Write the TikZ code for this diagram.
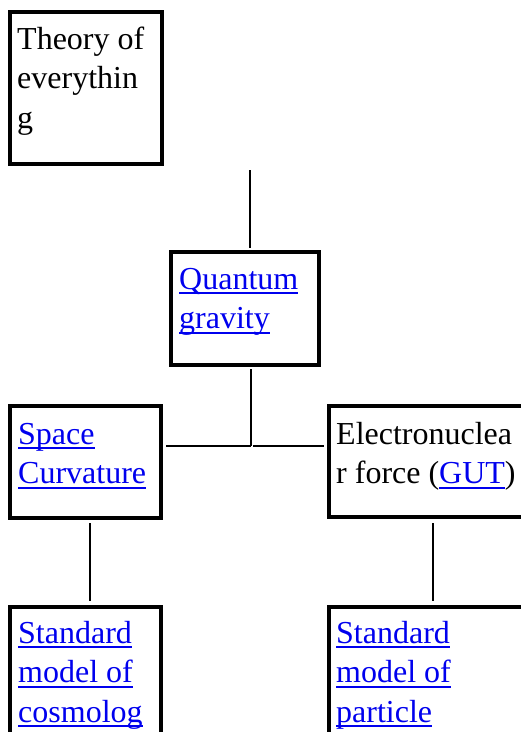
\documentclass[tikz,border=0pt]{standalone}
\usepackage{fontspec}
\setmainfont{Liberation Serif}
\definecolor{linkblue}{RGB}{0,0,238}
\newcommand{\lnk}[1]{\textcolor{linkblue}{\setbox0\hbox{#1}\rlap{\rule[-5pt]{\wd0}{2pt}}\box0}}
\begin{document}
\begin{tikzpicture}[x=1pt,y=-1pt,
    box/.style={draw,line width=4pt,inner sep=0pt,outer sep=0pt,
                anchor=north west},
    txt/.style={anchor=base west,inner sep=0pt,
                font=\fontsize{32}{39.5}\selectfont},
    conn/.style={line width=2pt}]
  \useasboundingbox (0,0) rectangle (521,732);
  % boxes
  \node[box,minimum width=152pt,minimum height=152pt] (toe) at (10,12) {};
  \node[box,minimum width=148pt,minimum height=113pt] (qg) at (171,252) {};
  \node[box,minimum width=151pt,minimum height=112pt] (sc) at (10,406) {};
  \node[box,minimum width=220pt,minimum height=111pt] (ef) at (329,406) {};
  \node[box,minimum width=151pt,minimum height=200pt] (smc) at (10,607) {};
  \node[box,minimum width=220pt,minimum height=200pt] (smp) at (329,607) {};
  % texts
  \node[txt] (toeT) at ([xshift=7,yshift=-37]toe.north west)
    {\parbox[t]{200pt}{Theory of\\everythin\\g}};
  \node[txt] (qgT) at ([xshift=8,yshift=-37]qg.north west)
    {\parbox[t]{200pt}{\lnk{Quantum}\\\lnk{gravity}}};
  \node[txt] (scT) at ([xshift=8,yshift=-38]sc.north west)
    {\parbox[t]{200pt}{\lnk{Space}\\\lnk{Curvature}}};
  \node[txt] (efT) at ([xshift=7,yshift=-38]ef.north west)
    {\parbox[t]{200pt}{Electronuclea\\r force (\lnk{GUT})}};
  \node[txt] (smcT) at ([xshift=8,yshift=-36]smc.north west)
    {\parbox[t]{200pt}{\lnk{Standard}\\\lnk{model of}\\\lnk{cosmolog}}};
  \node[txt] (smpT) at ([xshift=7,yshift=-36]smp.north west)
    {\parbox[t]{200pt}{\lnk{Standard}\\\lnk{model of}\\\lnk{particle}}};
  % connectors
  \coordinate (jn) at ([xshift=6,yshift=-81]qg.south);
  \draw[conn] ([xshift=5,yshift=82]qg.north) -- ([xshift=5,yshift=4]qg.north);
  \draw[conn] ([xshift=6,yshift=-4]qg.south) -- (jn);
  \draw[conn] ([xshift=5]sc.east |- jn) -- (jn);
  \draw[conn] ([xshift=2]jn) -- ([xshift=-5]ef.west |- jn);
  \draw[conn] ([xshift=4.5,yshift=-5]sc.south) -- ([xshift=4.5,yshift=6]smc.north);
  \draw[conn] ([xshift=104,yshift=-6]ef.south west) -- ([xshift=104,yshift=6]smp.north west);
\end{tikzpicture}
\end{document}
